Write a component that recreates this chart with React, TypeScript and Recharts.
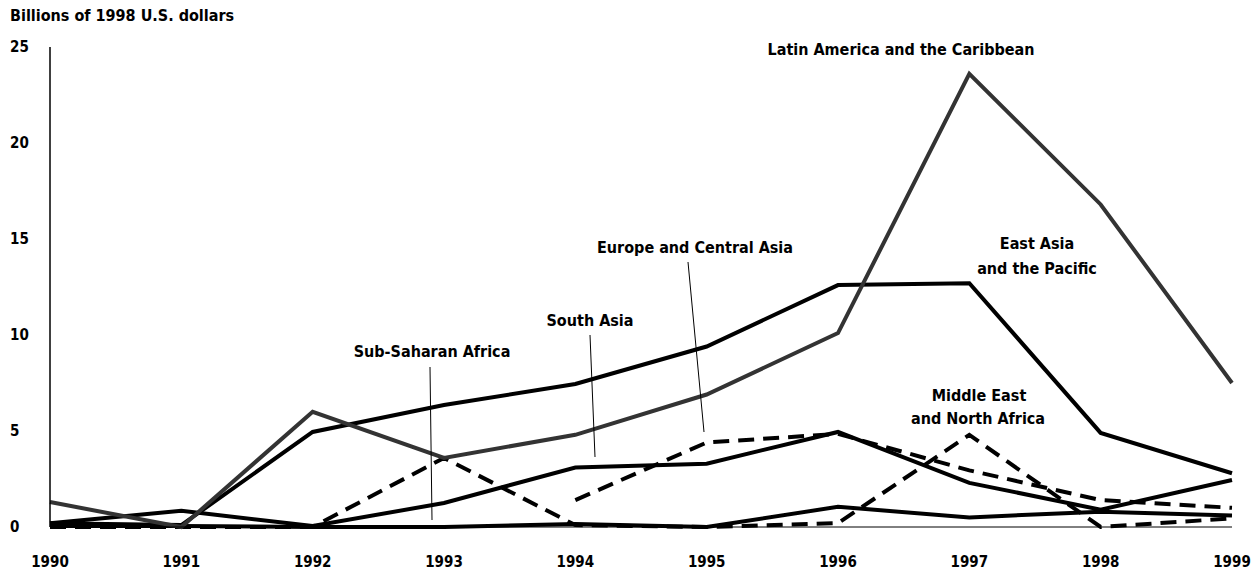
import { LineChart, Line, XAxis, YAxis } from 'recharts'

// years on the x axis
const years = ['1990', '1991', '1992', '1993', '1994', '1995', '1996', '1997', '1998', '1999']

// billions of 1998 US dollars
const latinAmerica = [1.3, 0.0, 6.0, 3.6, 4.8, 6.9, 10.1, 23.6, 16.8, 7.5]
const eastAsia = [0.2, 0.1, 4.95, 6.35, 7.45, 9.4, 12.6, 12.7, 4.9, 2.8]
const southAsia = [0.2, 0.85, 0.05, 1.25, 3.1, 3.3, 4.95, 2.3, 0.9, 2.45]
const europeCentralAsia = [null, null, null, null, 1.4, 4.4, 4.85, 2.95, 1.4, 1.0]
const middleEast = [0, 0, 0, 3.6, 0.1, 0, 0.2, 4.8, 0, 0.45]
const subSaharan = [0.05, 0.05, 0, 0, 0.15, 0, 1.05, 0.5, 0.8, 0.6]

const yTicks = [0, 5, 10, 15, 20, 25]

const data = years.map((year, i) => ({
  year,
  lac: latinAmerica[i],
  eap: eastAsia[i],
  sas: southAsia[i],
  eca: europeCentralAsia[i],
  mna: middleEast[i],
  ssa: subSaharan[i],
}))

const FONT = '"DejaVu Sans Condensed", "Liberation Sans Narrow", Arial, sans-serif'

const YTick = ({ y, payload }: any) => (
  <text x={10} y={y} dy={5} textAnchor="start" fill="#000" fontFamily={FONT} fontWeight="bold" fontSize={15}>
    {payload.value}
  </text>
)

const XTick = ({ x, y, payload }: any) => (
  <text x={x} y={y} dy={32} textAnchor="middle" fill="#000" fontFamily={FONT} fontWeight="bold" fontSize={15}>
    {payload.value}
  </text>
)

const labelStyle = {
  fontFamily: FONT,
  fontWeight: 'bold' as const,
  fontSize: 16,
  fill: '#000',
}

export default function App() {
  return (
    <div style={{ position: 'absolute', left: 0, top: 0, width: 1259, height: 576, background: '#fff' }}>
      <LineChart
        width={1259}
        height={576}
        data={data}
        margin={{ top: 47, right: 27, left: 10, bottom: 19 }}
      >
        <XAxis
          dataKey="year"
          height={30}
          axisLine={{ stroke: '#000', strokeWidth: 1 }}
          tickLine={false}
          tick={<XTick />}
          interval={0}
        />
        <YAxis
          width={40}
          domain={[0, 25]}
          ticks={yTicks}
          axisLine={{ stroke: '#000', strokeWidth: 1.5 }}
          tickLine={false}
          tick={<YTick />}
        />
        <Line type="linear" dataKey="ssa" stroke="#000" strokeWidth={4} dot={false} isAnimationActive={false} />
        <Line type="linear" dataKey="mna" stroke="#000" strokeWidth={4} strokeDasharray="16 9" dot={false} isAnimationActive={false} />
        <Line type="linear" dataKey="eca" stroke="#000" strokeWidth={4} strokeDasharray="16 9" dot={false} isAnimationActive={false} />
        <Line type="linear" dataKey="sas" stroke="#000" strokeWidth={4} dot={false} isAnimationActive={false} />
        <Line type="linear" dataKey="eap" stroke="#000" strokeWidth={4} dot={false} isAnimationActive={false} />
        <Line type="linear" dataKey="lac" stroke="#333" strokeWidth={4} dot={false} isAnimationActive={false} />
      </LineChart>

      <svg
        width={1259}
        height={576}
        style={{ position: 'absolute', left: 0, top: 0, pointerEvents: 'none' }}
      >
        <text x={10} y={21} {...labelStyle}>Billions of 1998 U.S. dollars</text>

        <text x={901} y={55} textAnchor="middle" {...labelStyle}>Latin America and the Caribbean</text>
        <text x={695} y={253} textAnchor="middle" {...labelStyle}>Europe and Central Asia</text>
        <text x={1037} y={249} textAnchor="middle" {...labelStyle}>East Asia</text>
        <text x={1037} y={274} textAnchor="middle" {...labelStyle}>and the Pacific</text>
        <text x={590} y={326} textAnchor="middle" {...labelStyle}>South Asia</text>
        <text x={432} y={357} textAnchor="middle" {...labelStyle}>Sub-Saharan Africa</text>
        <text x={979} y={401} textAnchor="middle" {...labelStyle}>Middle East</text>
        <text x={978} y={424} textAnchor="middle" {...labelStyle}>and North Africa</text>

        <line x1={430} y1={367} x2={432} y2={520} stroke="#000" strokeWidth={1} />
        <line x1={590} y1={335} x2={595} y2={457} stroke="#000" strokeWidth={1} />
        <line x1={688} y1={262} x2={704} y2={432} stroke="#000" strokeWidth={1} />
      </svg>
    </div>
  )
}
